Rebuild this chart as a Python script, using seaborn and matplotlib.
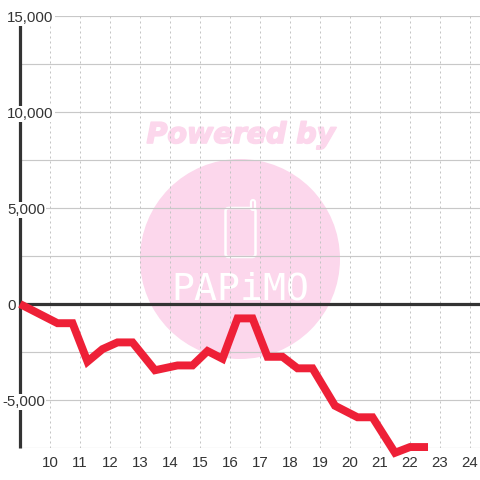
import matplotlib
matplotlib.use("Agg")
import matplotlib.pyplot as plt
import matplotlib.patheffects as pe
from matplotlib.patches import Circle, FancyBboxPatch
import seaborn as sns

hours = [9, 10.25, 10.75, 11.25, 11.75, 12.25, 12.75, 13.5, 14.25, 14.75, 15.25, 15.75,
         16.25, 16.75, 17.25, 17.75, 18.25, 18.75, 19.5, 20.25, 20.75, 21.5, 22.0, 22.6]
balance = [0, -1000, -1000, -3000, -2350, -2000, -2000, -3450, -3200, -3200, -2450, -2850,
           -750, -750, -2750, -2750, -3350, -3350, -5300, -5900, -5900, -7750, -7450, -7450]
x_ticks = list(range(10, 25))
y_major = [15000, 10000, 5000, 0, -5000]
y_labels = ["15,000", "10,000", "5,000", "0", "-5,000"]
y_grid = [15000, 12500, 10000, 7500, 5000, 2500, -2500, -5000, -7500]

sns.set_theme(style="white")
plt.rcParams["font.family"] = ["Liberation Sans", "DejaVu Sans"]

W = 480
fig = plt.figure(figsize=(4.8, 4.8), dpi=100, facecolor="white")
ax = fig.add_axes([20 / W, 1 - 448 / W, 460 / W, 432 / W])
ax.set_facecolor("none")
ax.set_xlim(9, 24.333)
ax.set_ylim(-7500, 15000)

# watermark, in pixels from the top left
def px(x, y):
    return x / W, 1 - y / W

pink = "#fcd7ec"
fig.add_artist(Circle(px(240, 259), 100 / W, transform=fig.transFigure, color=pink, lw=0, zorder=-1))
fig.text(*px(241, 135), "Powered by", color=pink, fontsize=20.5, family="DejaVu Sans",
         weight="bold", style="italic", ha="center", va="center", zorder=-1,
         path_effects=[pe.withStroke(linewidth=1.2, foreground=pink)])
fig.add_artist(FancyBboxPatch(px(225.5, 257), 30 / W, 49 / W, boxstyle="round,pad=0,rounding_size=0.007",
                              transform=fig.transFigure, fc="none", ec="white", lw=1.8, zorder=-1))
ant = [px(253.5, 208), px(253.5, 202)]
fig.add_artist(plt.Line2D([ant[0][0], ant[1][0]], [ant[0][1], ant[1][1]], transform=fig.transFigure,
                          color="white", lw=4.5, solid_capstyle="round", zorder=-1))
fig.add_artist(plt.Line2D([ant[0][0], ant[1][0]], [ant[0][1], ant[1][1]], transform=fig.transFigure,
                          color=pink, lw=1.4, solid_capstyle="round", zorder=-1))
fig.text(*px(240, 289), "PAPiMO", color="white", fontsize=27.5, family="DejaVu Sans Mono",
         ha="center", va="center", zorder=-1)

for v in y_grid:
    ax.axhline(v, color="#c8c8c8", lw=0.85, zorder=1)
for h in x_ticks:
    ax.axvline(h, color="#c4c4c4", lw=0.72, ls=(0, (2, 3)), zorder=1)

# axis lines, left one stops just under the top label
ax.plot([9, 9], [-7500, 14580], color="#333333", lw=2.3, solid_capstyle="butt", clip_on=False, zorder=2)
ax.axhline(0, color="#333333", lw=2.3, zorder=2)

sns.lineplot(x=hours, y=balance, ax=ax, color="#ee2037", linewidth=5.7, estimator=None, sort=False,
             solid_capstyle="butt", solid_joinstyle="miter", clip_on=False, zorder=4)

trans = ax.get_yaxis_transform()
for v, lab in zip(y_major, y_labels):
    xoff = -18 / 460 if v < 0 else -13 / 460
    ax.annotate(lab, xy=(xoff, v), xycoords=trans, xytext=(0, -6), textcoords="offset pixels",
                ha="left", va="baseline", fontsize=10.8, color="#333333",
                annotation_clip=False, zorder=3, bbox=dict(fc="white", ec="none", pad=1))

ax.set_xticks(x_ticks)
ax.set_xticklabels([str(h) for h in x_ticks], fontsize=10.8, color="#333333")
ax.set_yticks([])
ax.tick_params(axis="x", length=0, pad=5.5)
for s in ax.spines.values():
    s.set_visible(False)

fig.savefig("out.png", dpi=100)
